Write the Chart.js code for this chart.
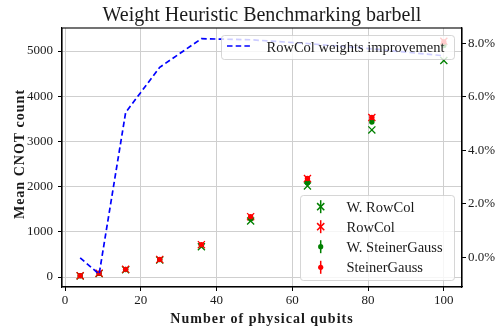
<!DOCTYPE html>
<html>
<head>
<meta charset="utf-8">
<script src="https://cdn.jsdelivr.net/npm/chart.js@4/dist/chart.umd.min.js"></script>
<style>
  html, body { margin: 0; padding: 0; background: #fff; }
  #wrap { width: 500px; height: 330px; }
</style>
</head>
<body>
<div id="wrap"><canvas id="c" width="500" height="330"></canvas></div>
<script>
// Number of physical qubits (barbell graphs)
const qubits = [4, 9, 16, 25, 36, 49, 64, 81, 100];

// Mean CNOT counts per method
const wRowCol        = [25, 75, 160, 375, 670, 1240, 2015, 3255, 4790];
const rowCol         = [30, 85, 170, 390, 715, 1335, 2180, 3530, 5215];
const wSteinerGauss  = [28, 80, 165, 385, 700, 1285, 2085, 3430, 5120];
const steinerGauss   = [30, 85, 170, 390, 715, 1335, 2180, 3530, 5200];

// Relative improvement of weighted RowCol (percent)
const improvement    = [-0.02, -0.63, 5.42, 7.11, 8.18, 8.14, 8.0, 7.8, 7.54];

// Tick values
const xTicks     = [0, 20, 40, 60, 80, 100];
const countTicks = [0, 1000, 2000, 3000, 4000, 5000];
const pctTicks   = [0, 2, 4, 6, 8];

const SERIF = '"Liberation Serif", "Times New Roman", serif';
const GREEN = '#008000', RED = '#ff0000', BLUE = '#0000ff';
const TEXT = '#1a1a1a';
const DASH = [5.5, 3.2];
const LINE_W = 1.7;

const pts = ys => qubits.map((q, i) => ({ x: q, y: ys[i] }));

function fixedTicks(values) {
  return scale => { scale.ticks = values.map(v => ({ value: v })); };
}

// Titles, frame and the two legend boxes
const decorations = {
  id: 'decorations',
  afterDatasetsDraw(chart) {
    const { ctx, chartArea: a } = chart;
    ctx.save();
    ctx.strokeStyle = '#000';
    ctx.lineWidth = 1.1;
    ctx.strokeRect(a.left, a.top, a.right - a.left, a.bottom - a.top);
    ctx.restore();
  },
  afterDraw(chart) {
    const { ctx, chartArea: a } = chart;
    const cx = (a.left + a.right) / 2;
    ctx.save();
    ctx.fillStyle = TEXT;
    ctx.textAlign = 'center';
    ctx.textBaseline = 'alphabetic';
    ctx.font = '20px ' + SERIF;
    ctx.fillText('Weight Heuristic Benchmarking barbell', cx, 21);

    ctx.font = 'bold 14px ' + SERIF;
    ctx.letterSpacing = '1px';
    ctx.fillText('Number of physical qubits', cx, 322.5);
    ctx.save();
    ctx.translate(24, 154);
    ctx.rotate(-Math.PI / 2);
    ctx.fillText('Mean CNOT count', 0, 0);
    ctx.restore();
    ctx.letterSpacing = '0px';

    const box = (x, y, w, h) => {
      ctx.beginPath();
      ctx.roundRect(x, y, w, h, 3);
      ctx.fillStyle = 'rgba(255,255,255,0.8)';
      ctx.fill();
      ctx.strokeStyle = 'rgba(204,204,204,0.8)';
      ctx.lineWidth = 1;
      ctx.stroke();
    };

    // legend for the improvement line
    const ds = chart.data.datasets;
    box(221.5, 35.5, 233, 24);
    ctx.strokeStyle = BLUE;
    ctx.lineWidth = LINE_W;
    ctx.setLineDash(DASH);
    ctx.beginPath();
    ctx.moveTo(227, 46);
    ctx.lineTo(253, 46);
    ctx.stroke();
    ctx.setLineDash([]);
    ctx.font = '14.5px ' + SERIF;
    ctx.fillStyle = TEXT;
    ctx.textAlign = 'left';
    ctx.fillText(ds[0].label, 266.5, 51.5);

    // legend for the CNOT count series
    box(300.5, 195.5, 154, 85);
    const entries = [ds[4], ds[3], ds[2], ds[1]];
    const ys = [206.7, 226.7, 246.7, 267.3];
    entries.forEach((d, i) => {
      const y = ys[i], x = 320.7;
      ctx.strokeStyle = d.borderColor;
      ctx.fillStyle = d.borderColor;
      ctx.lineWidth = 1.5;
      ctx.beginPath();
      ctx.moveTo(x, y - 6.5);
      ctx.lineTo(x, y + 6.5);
      ctx.stroke();
      if (d.pointStyle === 'crossRot') {
        const r = 3.6;
        ctx.beginPath();
        ctx.moveTo(x - r, y - r); ctx.lineTo(x + r, y + r);
        ctx.moveTo(x - r, y + r); ctx.lineTo(x + r, y - r);
        ctx.stroke();
      } else {
        ctx.beginPath();
        ctx.arc(x, y, 2.6, 0, Math.PI * 2);
        ctx.fill();
      }
      ctx.fillStyle = TEXT;
      ctx.fillText(d.label, 346.5, y + 4.8);
    });
    ctx.restore();
  }
};

const gridColor = '#cfcfcf';
const tickFont = { family: SERIF, size: 13 };

new Chart(document.getElementById('c'), {
  type: 'scatter',
  data: {
    datasets: [
      {
        label: 'RowCol weights improvement',
        data: pts(improvement),
        yAxisID: 'y2',
        showLine: true,
        borderColor: BLUE,
        borderWidth: LINE_W,
        borderDash: DASH,
        pointRadius: 0,
        fill: false,
        tension: 0
      },
      {
        label: 'SteinerGauss',
        data: pts(steinerGauss),
        yAxisID: 'y',
        pointStyle: 'circle',
        pointRadius: 2.7,
        borderWidth: 0,
        borderColor: RED,
        backgroundColor: RED
      },
      {
        label: 'W. SteinerGauss',
        data: pts(wSteinerGauss),
        yAxisID: 'y',
        pointStyle: 'circle',
        pointRadius: 2.7,
        borderWidth: 0,
        borderColor: GREEN,
        backgroundColor: GREEN
      },
      {
        label: 'RowCol',
        data: pts(rowCol),
        yAxisID: 'y',
        pointStyle: 'crossRot',
        pointRadius: 5,
        borderWidth: 1.3,
        borderColor: RED,
        backgroundColor: RED
      },
      {
        label: 'W. RowCol',
        data: pts(wRowCol),
        yAxisID: 'y',
        pointStyle: 'crossRot',
        pointRadius: 5,
        borderWidth: 1.3,
        borderColor: GREEN,
        backgroundColor: GREEN
      }
    ]
  },
  options: {
    responsive: false,
    animation: false,
    devicePixelRatio: 1,
    layout: { padding: { top: 28, left: 0, right: 0, bottom: 0 } },
    plugins: { legend: { display: false }, title: { display: false }, tooltip: { enabled: false } },
    scales: {
      x: {
        type: 'linear',
        position: 'bottom',
        min: -0.8,
        max: 104.8,
        afterBuildTicks: fixedTicks(xTicks),
        afterFit: s => { s.height = 43; },
        grid: { color: gridColor, lineWidth: 1, tickColor: '#000', tickLength: 4, tickWidth: 1 },
        border: { color: '#000', width: 1.1 },
        ticks: { font: tickFont, color: TEXT, padding: 2, maxRotation: 0, callback: v => String(v) }
      },
      y: {
        type: 'linear',
        position: 'left',
        min: -221,
        max: 5509,
        afterBuildTicks: fixedTicks(countTicks),
        afterFit: s => { s.width = 62; },
        grid: { color: gridColor, lineWidth: 1, tickColor: '#000', tickLength: 4, tickWidth: 1 },
        border: { color: '#000', width: 1.1 },
        ticks: { font: tickFont, color: TEXT, padding: 5, callback: v => String(v) }
      },
      y2: {
        type: 'linear',
        position: 'right',
        min: -1.11,
        max: 8.58,
        afterBuildTicks: fixedTicks(pctTicks),
        afterFit: s => { s.width = 38; },
        grid: { drawOnChartArea: false, tickColor: '#000', tickLength: 4, tickWidth: 1 },
        border: { color: '#000', width: 1.1 },
        ticks: { font: tickFont, color: TEXT, padding: 2, callback: v => v.toFixed(1) + '%' }
      }
    }
  },
  plugins: [decorations]
});
</script>
</body>
</html>
